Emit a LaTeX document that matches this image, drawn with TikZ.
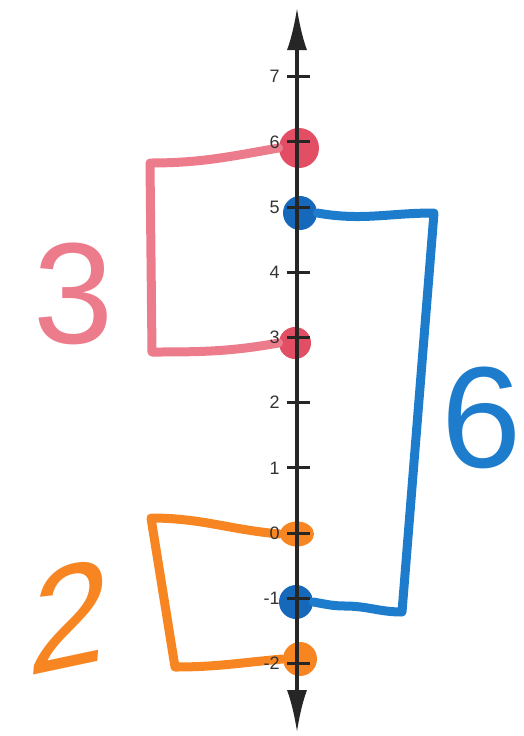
\documentclass[tikz,border=0pt]{standalone}
\usepackage{fontspec}
\setmainfont{Liberation Sans}
\usetikzlibrary{arrows.meta,positioning,shapes.geometric}
\definecolor{penpink}{RGB}{236,124,140}
\definecolor{dotpink}{RGB}{226,78,100}
\definecolor{penblue}{RGB}{30,124,204}
\definecolor{dotblue}{RGB}{22,104,186}
\definecolor{penorange}{RGB}{247,134,34}
\begin{document}
\begin{tikzpicture}[x=0.5pt, y=-0.5pt,
  axis/.style={line width=1.6pt, black!85, {Latex[length=21pt,width=10pt]}-{Latex[length=21pt,width=10pt]}},
  tickmark/.style={line width=1.5pt, black!85},
  ticklabel/.style={anchor=east, inner sep=1pt, font=\fontsize{9}{9}\selectfont, black!80},
  dot/.style={circle, inner sep=0pt, minimum size=17pt},
  pen/.style={line width=4.5pt, line cap=round, line join=round},
  bignum/.style={font=\fontsize{72}{72}\selectfont}]
\useasboundingbox (0,0) rectangle (524,736);
% marker dots on the number line
\node[dot, fill=dotpink, minimum size=20pt] (p6) at (299,148) {};
\node[dot, fill=dotpink, minimum size=16pt] (p3) at (295,343) {};
\node[dot, fill=dotblue] (b5) at (300,213) {};
\node[dot, fill=dotblue] (bm1) at (296,602) {};
\node[ellipse, fill=penorange, inner sep=0pt, minimum width=17pt, minimum height=12.5pt] (o0) at (297,534) {};
\node[dot, fill=penorange] (om2) at (300,659) {};
% bracket corners
\coordinate (pa) at (150,163);
\coordinate (pb) at (152,352);
\coordinate (ba) at (434,213);
\coordinate (bb) at (402,612);
\coordinate (oa) at (151,518);
\coordinate (ob) at (175,667);
% brackets
\draw[pen, penpink] (p6.west) to[out=190,in=0] (pa) -- (pb) to[out=0,in=190] (p3.west);
\draw[pen, penblue] (b5.east) to[out=-10,in=180] (ba) -- (bb) to[out=180,in=0] (345,606) to[out=180,in=-10] (bm1.east);
\draw[pen, penorange] (o0.west) to[out=175,in=0] (oa) -- (ob) to[out=0,in=185] (om2.west);
% number line
\node[coordinate] (top) at (297,8) {};
\node[coordinate] (bot) at (297,732) {};
\draw[axis] (bot) -- (top);
\foreach \v in {-2,...,7} {
  \draw[tickmark] (287,{533-65.2*\v}) -- (310,{533-65.2*\v});
  \node[ticklabel] (l\v) at (282,{533-65.2*\v}) {\v};
}
% handwritten lengths
\node[bignum, penpink] (len3) at (74,294) {3};
\node[bignum, penblue] (len6) at (482,418) {6};
\node[bignum, penorange, rotate=12, xslant=0.3] (len2) at (70,616) {2};
\end{tikzpicture}
\end{document}
